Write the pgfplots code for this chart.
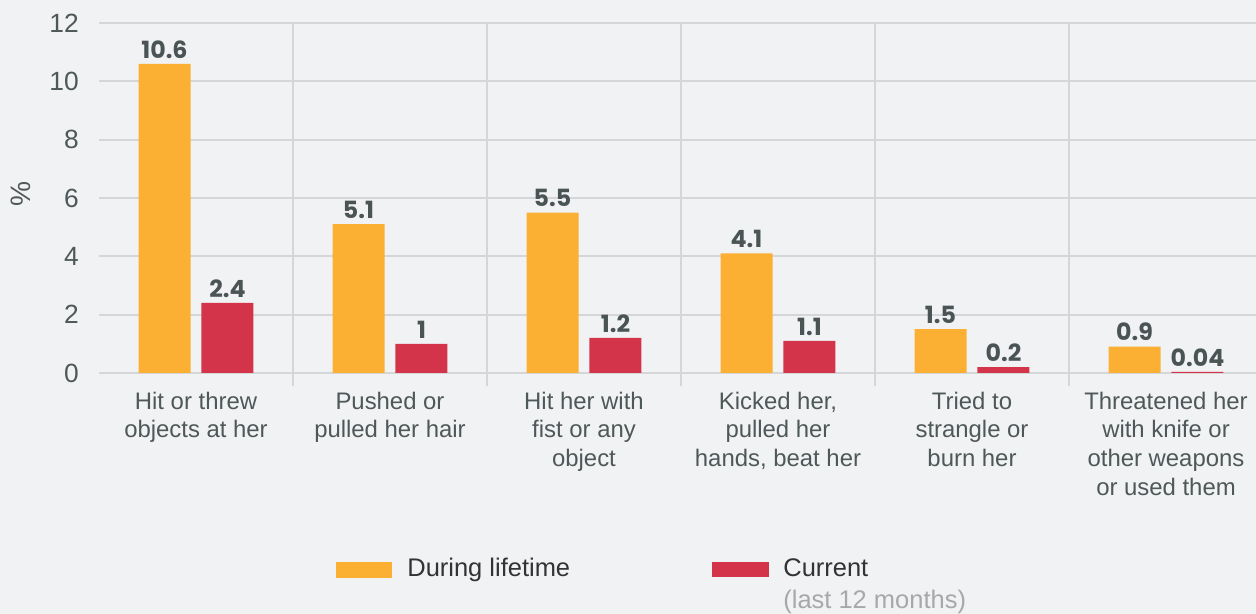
\documentclass[border=0pt]{standalone}
\usepackage{pgfplots}
\pgfplotsset{compat=1.18}
\usepackage{fontspec}
\setmainfont{Liberation Sans}
\newfontfamily\valfont{Poppins}
\definecolor{bgcol}{HTML}{F1F2F4}
\definecolor{gridcol}{HTML}{D5D6D8}
\definecolor{lifecol}{HTML}{FBB034}
\definecolor{curcol}{HTML}{D3344A}
\definecolor{txtcol}{HTML}{4F5858}
\definecolor{valcol}{HTML}{4A5454}
\definecolor{legcol}{HTML}{333333}
\definecolor{subcol}{HTML}{A8A8A8}

\begin{document}
\begin{tikzpicture}
% page = 1256 x 614 px, 1 px = 0.02 cm
\fill[bgcol] (0,0) rectangle (25.12cm,12.28cm);
\useasboundingbox (0,0) rectangle (25.12cm,12.28cm);
\begin{axis}[at={(1.98cm,4.82cm)}, anchor=south west,
  scale only axis, width=23.14cm, height=7cm,
  xmin=-0.5, xmax=5.464, ymin=0, ymax=12,
  clip=false, axis line style={draw=none},
  ytick={0,2,...,12}, ymajorgrids, grid style={gridcol, line width=1.1pt},
  major tick length=0pt,
  yticklabel style={font=\fontsize{15}{17}\selectfont, text=txtcol, xshift=-0.28cm},
  /pgf/number format/assume math mode=true,
  xtick={0,...,5},
  xticklabels={{Hit or threw\\objects at her},{Pushed or\\pulled her hair},{Hit her with\\fist or any\\object},{Kicked her,\\pulled her\\hands, beat her},{Tried to\\strangle or\\burn her},{Threatened her\\with knife or\\other weapons\\or used them}},
  xticklabel style={font=\fontsize{13.6}{16.4}\selectfont, text=txtcol, align=center, anchor=north, yshift=-0.25cm},
  nodes near coords, point meta=explicit symbolic,
  every node near coord/.append style={font=\valfont\bfseries\fontsize{13.5}{15}\selectfont, text=valcol, inner sep=3pt},
]
\foreach \xv in {0.5,1.5,2.5,3.5,4.5}{
  \edef\tmp{\noexpand\draw[gridcol, line width=1.1pt] (axis cs:\xv,-0.45) -- (axis cs:\xv,12);}\tmp
}
\addplot[ybar, bar width=0.268, bar shift=-0.162, fill=lifecol, draw=none,
  every node near coord/.append style={xshift=-0.63cm}]
  coordinates {(0,10.6)[10.6] (1,5.1)[5.1] (2,5.5)[5.5] (3,4.1)[4.1] (4,1.5)[1.5] (5,0.9)[0.9]};
\addplot[ybar, bar width=0.268, bar shift=0.162, fill=curcol, draw=none,
  every node near coord/.append style={xshift=0.63cm}]
  coordinates {(0,2.4)[2.4] (1,1)[1] (2,1.2)[1.2] (3,1.1)[1.1] (4,0.2)[0.2] (5,0.04)[0.04]};
\node[rotate=90, text=txtcol, font=\fontsize{16}{18}\selectfont] at (axis description cs:-0.068,0.51) {\%};
\end{axis}
% legend
\fill[lifecol] (6.72cm,0.72cm) rectangle (7.84cm,1.04cm);
\node[anchor=base west, text=legcol, font=\fontsize{14.5}{17}\selectfont, inner sep=0] at (8.14cm,0.74cm) {During lifetime};
\fill[curcol] (14.24cm,0.74cm) rectangle (15.38cm,1.04cm);
\node[anchor=base west, text=legcol, font=\fontsize{14.5}{17}\selectfont, inner sep=0] at (15.66cm,0.74cm) {Current};
\node[anchor=base west, text=subcol, font=\fontsize{14.5}{17}\selectfont, inner sep=0] at (15.66cm,0.1cm) {(last 12 months)};
\end{tikzpicture}
\end{document}
